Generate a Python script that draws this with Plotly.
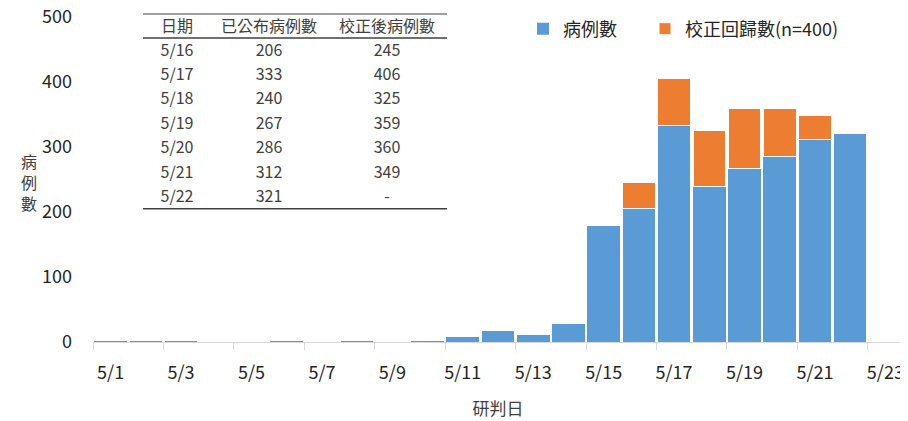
import plotly.graph_objects as go

# ---- data ----
days = list(range(1, 23))                      # 5/1 .. 5/22
cases = [3, 3, 3, 0, 0, 3, 0, 3, 0, 3, 8, 17, 12, 29, 179,
         206, 333, 240, 267, 286, 312, 321]
backfill = [0] * 15 + [39, 73, 85, 92, 74, 37, 0]
tick_days = list(range(1, 24, 2))
tick_labels = [f"5/{d}" for d in tick_days]

tbl_dates = ["5/16", "5/17", "5/18", "5/19", "5/20", "5/21", "5/22"]
tbl_published = ["206", "333", "240", "267", "286", "312", "321"]
tbl_corrected = ["245", "406", "325", "359", "360", "349", "-"]
tbl_header = ["日期", "已公布病例數", "校正後病例數"]

FONT = "Noto Sans CJK TC"
BLUE = "#5B9BD5"
ORANGE = "#ED7D31"

# page has an 8px body margin: figure is drawn at (8, 8)
OX, OY = 8, 8
W, H = 900, 413
ML, MR, MT, MB = 85, 5, 2, 79
paper_w = W - ML - MR
paper_h = H - MT - MB


def px_x(x_abs):
    return (x_abs - OX - ML) / paper_w


def px_y(y_abs):
    return (H - MB - (y_abs - OY)) / paper_h


fig = go.Figure()
fig.add_trace(go.Bar(x=days, y=cases, name="病例數", legend="legend", showlegend=True,
                     marker=dict(color=BLUE, line=dict(width=0))))
fig.add_trace(go.Bar(x=days, y=backfill, name="校正回歸數(n=400)", legend="legend2", showlegend=True,
                     marker=dict(color=ORANGE, line=dict(color="white", width=1))))

# table
hdr_h, row_h = 24, 24.4
tbl_top = 14
tbl_bottom = tbl_top + hdr_h + row_h * len(tbl_dates)
tx0, tx1 = px_x(143), px_x(447)
shift = 2.5
fig.add_trace(go.Table(
    domain=dict(x=[tx0, tx1], y=[px_y(tbl_bottom + 6), px_y(tbl_top - shift)]),
    columnwidth=[68, 116, 120],
    header=dict(values=tbl_header, height=hdr_h, align="center",
                fill_color="rgba(0,0,0,0)", line=dict(width=0, color="rgba(0,0,0,0)"),
                font=dict(family=FONT, size=16, color="#404040")),
    cells=dict(values=[tbl_dates, tbl_published, tbl_corrected], height=row_h, align="center",
               fill_color="rgba(0,0,0,0)", line=dict(width=0, color="rgba(0,0,0,0)"),
               font=dict(family=FONT, size=16, color="#404040")),
))
for ypx, c in [(tbl_top, "#808080"), (tbl_top + hdr_h, "#404040"), (tbl_bottom, "#404040")]:
    fig.add_shape(type="line", xref="paper", yref="paper", x0=tx0, x1=tx1,
                  y0=px_y(ypx), y1=px_y(ypx), line=dict(color=c, width=1.5))

# y title, stacked characters
fig.add_annotation(text="病<br>例<br>數", xref="paper", yref="paper", x=px_x(19), y=px_y(182),
                   showarrow=False, font=dict(family=FONT, size=16, color="#404040"))

legend_common = dict(orientation="h", yanchor="middle", xanchor="left", y=px_y(29),
                     font=dict(family=FONT, size=18, color="#262626"), bgcolor="rgba(0,0,0,0)",
                     visible=True)

fig.update_layout(
    width=W, height=H,
    showlegend=True,
    margin=dict(l=ML, r=MR, t=MT, b=MB, autoexpand=False),
    barmode="stack", bargap=0.075,
    plot_bgcolor="white", paper_bgcolor="white",
    font=dict(family=FONT, color="#262626"),
    legend=dict(x=px_x(523), **legend_common),
    legend2=dict(x=px_x(645), **legend_common),
    xaxis=dict(range=[0.5, 23.5], tickmode="array", tickvals=tick_days, ticktext=tick_labels,
               ticks="", showline=True, linecolor="#D9D9D9", linewidth=1, showgrid=False,
               zeroline=False, layer="below traces", ticklabelstandoff=14,
               ticklabeloverflow="allow",
               tickfont=dict(family=FONT, size=18, color="#262626"),
               minor=dict(tickmode="array", tickvals=[d - 0.5 for d in tick_days], ticks="outside",
                          ticklen=7, tickcolor="#D9D9D9", tickwidth=1, showgrid=False),
               title=dict(text="研判日", font=dict(family=FONT, size=17, color="#404040"), standoff=20),
               fixedrange=True),
    yaxis=dict(range=[0, 500], dtick=100, domain=[0, px_y(17)], showgrid=False, zeroline=False,
               showline=False, ticks="", tickfont=dict(family=FONT, size=18, color="#262626"),
               ticklabelstandoff=20, ticklabeloverflow="allow", fixedrange=True),
)

fig.write_html("out.html")
